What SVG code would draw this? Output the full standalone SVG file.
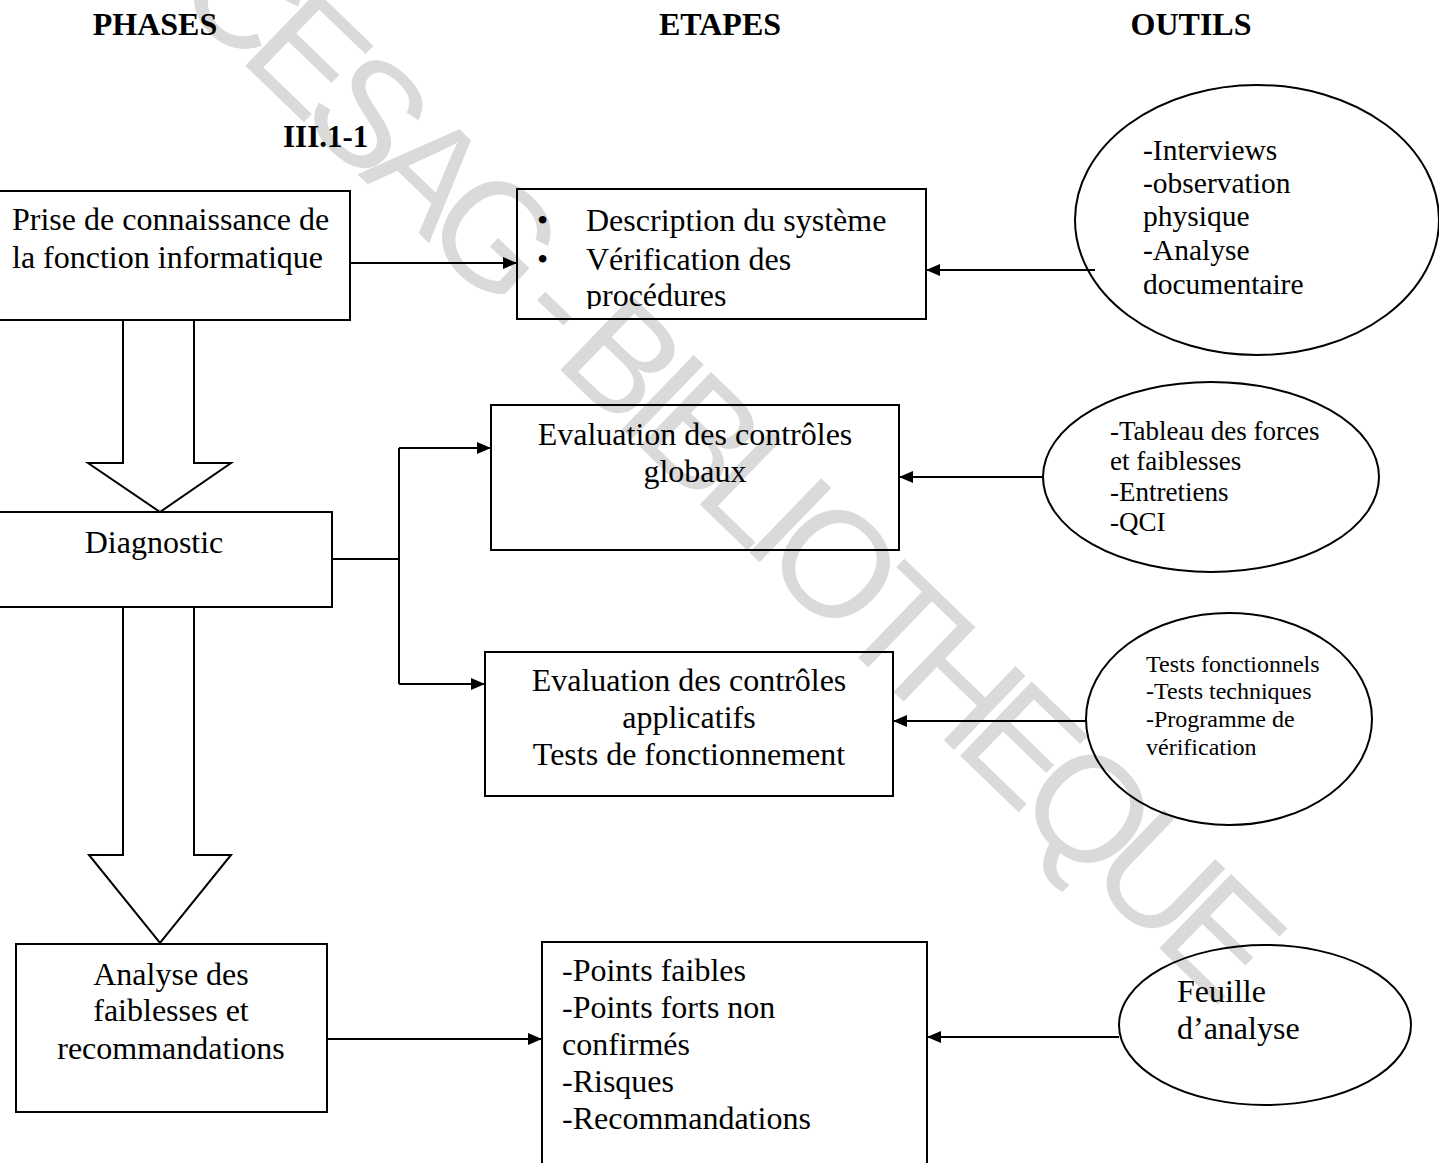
<svg xmlns="http://www.w3.org/2000/svg" width="1439" height="1163" viewBox="0 0 1439 1163">
<style>
.t{font-family:"Liberation Serif","Times New Roman",serif;fill:#000}
.h{font-family:"Liberation Serif","Times New Roman",serif;font-weight:bold;font-size:32px;fill:#000}
.b{fill:none;stroke:#000;stroke-width:2}
.c{fill:none;stroke:#000;stroke-width:2}
.wm{font-family:"Liberation Sans",Arial,sans-serif;font-size:150px;letter-spacing:-16px;fill:#dadada}
</style>
<defs>
<marker id="ah" viewBox="0 0 14 12" refX="14" refY="6" markerWidth="14" markerHeight="12" markerUnits="userSpaceOnUse" orient="auto">
<path d="M0,0 L14,6 L0,12 z" fill="#000"/>
</marker>
<clipPath id="clip2"><rect x="517" y="189" width="409" height="120"/></clipPath>
</defs>
<rect width="1439" height="1163" fill="#fff"/>
<text class="wm" x="170" y="-7" transform="rotate(44 170 -7)">CESAG - BIBLIOTHEQUE</text>

<g id="headers">
<text class="h" x="155" y="35" text-anchor="middle">PHASES</text>
<text class="h" x="720" y="35" text-anchor="middle">ETAPES</text>
<text class="h" x="1191" y="35" text-anchor="middle">OUTILS</text>
<text class="h" x="283" y="147" style="font-size:31px">III.1-1</text>
</g>

<g id="connectors">
<line class="c" x1="350" y1="263" x2="517" y2="263" marker-end="url(#ah)"/>
<line class="c" x1="1095" y1="270" x2="926" y2="270" marker-end="url(#ah)"/>
<polyline class="c" points="332,559 399,559"/>
<polyline class="c" points="399,448 399,684"/>
<line class="c" x1="399" y1="448" x2="491" y2="448" marker-end="url(#ah)"/>
<line class="c" x1="399" y1="684" x2="485" y2="684" marker-end="url(#ah)"/>
<line class="c" x1="1043" y1="477" x2="899" y2="477" marker-end="url(#ah)"/>
<line class="c" x1="1086" y1="721" x2="893" y2="721" marker-end="url(#ah)"/>
<line class="c" x1="327" y1="1039" x2="542" y2="1039" marker-end="url(#ah)"/>
<line class="c" x1="1119" y1="1037" x2="927" y2="1037" marker-end="url(#ah)"/>
<path id="fat1" class="b" d="M123,320 L123,463 L88,463 L160,512 L231,463 L194,463 L194,320"/>
<path id="fat2" class="b" d="M123,607 L123,855 L89,855 L160,943 L231,855 L194,855 L194,607"/>
</g>

<g id="n-prise">
<rect class="b" x="-2" y="191" width="352" height="129"/>
<text class="t" x="12" y="230" style="font-size:32px">Prise de connaissance de</text>
<text class="t" x="12" y="268" style="font-size:32px">la fonction informatique</text>
</g>

<g id="n-description">
<rect class="b" x="517" y="189" width="409" height="130"/>
<g clip-path="url(#clip2)">
<text class="t" x="537" y="231" style="font-size:32px">•</text>
<text class="t" x="586" y="231" style="font-size:32px">Description du système</text>
<text class="t" x="537" y="270" style="font-size:32px">•</text>
<text class="t" x="586" y="270" style="font-size:32px">Vérification des</text>
<text class="t" x="586" y="306" style="font-size:32px">procédures</text>
</g>
</g>

<g id="n-outils1">
<ellipse class="b" cx="1257" cy="220" rx="182" ry="135"/>
<text class="t" x="1143" y="160" style="font-size:29.5px">-Interviews</text>
<text class="t" x="1143" y="193" style="font-size:29.5px">-observation</text>
<text class="t" x="1143" y="226" style="font-size:29.5px">physique</text>
<text class="t" x="1143" y="260" style="font-size:29.5px">-Analyse</text>
<text class="t" x="1143" y="294" style="font-size:29.5px">documentaire</text>
</g>

<g id="n-diagnostic">
<rect class="b" x="-2" y="512" width="334" height="95"/>
<text class="t" x="154" y="553" text-anchor="middle" style="font-size:32px">Diagnostic</text>
</g>

<g id="n-globaux">
<rect class="b" x="491" y="405" width="408" height="145"/>
<text class="t" x="695" y="445" text-anchor="middle" style="font-size:32px">Evaluation des contrôles</text>
<text class="t" x="695" y="482" text-anchor="middle" style="font-size:32px">globaux</text>
</g>

<g id="n-outils2">
<ellipse class="b" cx="1211" cy="477" rx="168" ry="95"/>
<text class="t" x="1110" y="440" style="font-size:27px">-Tableau des forces</text>
<text class="t" x="1110" y="470" style="font-size:27px">et faiblesses</text>
<text class="t" x="1110" y="501" style="font-size:27px">-Entretiens</text>
<text class="t" x="1110" y="531" style="font-size:27px">-QCI</text>
</g>

<g id="n-applicatifs">
<rect class="b" x="485" y="652" width="408" height="144"/>
<text class="t" x="689" y="691" text-anchor="middle" style="font-size:32px">Evaluation des contrôles</text>
<text class="t" x="689" y="728" text-anchor="middle" style="font-size:32px">applicatifs</text>
<text class="t" x="689" y="765" text-anchor="middle" style="font-size:32px">Tests de fonctionnement</text>
</g>

<g id="n-outils3">
<ellipse class="b" cx="1229" cy="719" rx="143" ry="106"/>
<text class="t" x="1146" y="672" style="font-size:24px">Tests fonctionnels</text>
<text class="t" x="1146" y="699" style="font-size:24px">-Tests techniques</text>
<text class="t" x="1146" y="727" style="font-size:24px">-Programme de</text>
<text class="t" x="1146" y="755" style="font-size:24px">vérification</text>
</g>

<g id="n-analyse">
<rect class="b" x="16" y="944" width="311" height="168"/>
<text class="t" x="171" y="985" text-anchor="middle" style="font-size:32px">Analyse des</text>
<text class="t" x="171" y="1021" text-anchor="middle" style="font-size:32px">faiblesses et</text>
<text class="t" x="171" y="1059" text-anchor="middle" style="font-size:32px">recommandations</text>
</g>

<g id="n-points">
<rect class="b" x="542" y="942" width="385" height="240"/>
<text class="t" x="562" y="981" style="font-size:32px">-Points faibles</text>
<text class="t" x="562" y="1018" style="font-size:32px">-Points forts non</text>
<text class="t" x="562" y="1055" style="font-size:32px">confirmés</text>
<text class="t" x="562" y="1092" style="font-size:32px">-Risques</text>
<text class="t" x="562" y="1129" style="font-size:32px">-Recommandations</text>
</g>

<g id="n-outils4">
<ellipse class="b" cx="1265" cy="1025" rx="146" ry="80"/>
<text class="t" x="1177" y="1002" style="font-size:32px">Feuille</text>
<text class="t" x="1177" y="1039" style="font-size:32px">d’analyse</text>
</g>
</svg>
